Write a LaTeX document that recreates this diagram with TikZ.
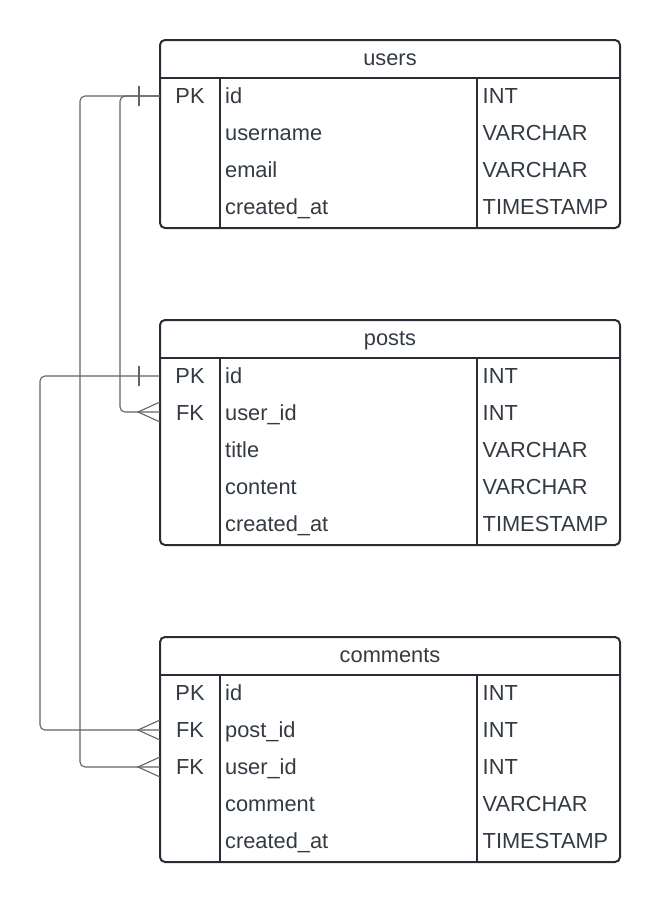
\documentclass[tikz,border=0pt]{standalone}
\usepackage{fontspec}
\setmainfont{Liberation Sans}
\usetikzlibrary{calc}
\definecolor{txt}{HTML}{333A42}
\definecolor{bord}{HTML}{282C33}
\definecolor{conn}{HTML}{5F6368}
\tikzset{
  tbl/.style={draw=bord, line width=2pt, rounded corners=5pt, anchor=north west, minimum width=460pt, inner sep=0pt, outer sep=0pt},
  sep/.style={draw=bord, line width=2pt},
  cell/.style={text=txt, font=\fontsize{21.8}{21.8}\selectfont, inner sep=0pt},
  conn/.style={draw=conn, line width=1.1pt, rounded corners=5pt},
  endmark/.style={draw=conn, line width=1.1pt}
}
\newcommand\erTable[5]{% name, top, title, nrows, rows
  \pgfmathsetmacro\hdr{#2+38}
  \pgfmathsetmacro\bot{#2+38+37*#4+2}
  \node[tbl, minimum height={\bot-#2}] (#1) at (160,#2) {};
  \draw[sep] (160,\hdr) -- (620,\hdr);
  \draw[sep] (220,\hdr) -- (220,\bot);
  \draw[sep] (477,\hdr) -- (477,\bot);
  \node[cell, anchor=base] (#1-title) at (390,#2+25) {#3};
  \foreach \k/\n/\t [count=\i from 0] in {#5} {
    \pgfmathsetmacro\yb{#2+38+18+37*\i+7.5}
    \node[cell, anchor=base] (#1-k\i) at (190,\yb) {\k};
    \node[cell, anchor=base west] (#1-n\i) at (225,\yb) {\n};
    \node[cell, anchor=base west] (#1-t\i) at (482.5,\yb) {\t};
  }
}
\begin{document}
\begin{tikzpicture}[x=1pt,y=-1pt]
\useasboundingbox (0,0) rectangle (660,902);
\erTable{users}{40}{users}{4}{PK/id/INT, /username/VARCHAR, /email/VARCHAR, /created\_at/TIMESTAMP}
\erTable{posts}{320}{posts}{5}{PK/id/INT, FK/user\_id/INT, /title/VARCHAR, /content/VARCHAR, /created\_at/TIMESTAMP}
\erTable{comments}{637}{comments}{5}{PK/id/INT, FK/post\_id/INT, FK/user\_id/INT, /comment/VARCHAR, /created\_at/TIMESTAMP}

\coordinate (u-id) at (160,96);
\coordinate (p-id) at (160,376);
\coordinate (p-uid) at (160,412);
\coordinate (c-pid) at (160,730);
\coordinate (c-uid) at (160,767);

% connectors
\draw[conn] (u-id) -- ++(-40,0) |- (p-uid);
\draw[conn] (u-id) -- ++(-80,0) |- (c-uid);
\draw[conn] (p-id) -- ++(-120,0) |- (c-pid);

% one marks
\draw[endmark] ($(u-id)+(-21,-10)$) -- ++(0,20);
\draw[endmark] ($(p-id)+(-21,-10)$) -- ++(0,20);

% crow's feet
\foreach \c in {p-uid, c-pid, c-uid} {
  \draw[endmark] ($(\c)+(0,-10)$) -- ($(\c)+(-22,0)$) -- ($(\c)+(0,10)$);
}
\end{tikzpicture}
\end{document}
